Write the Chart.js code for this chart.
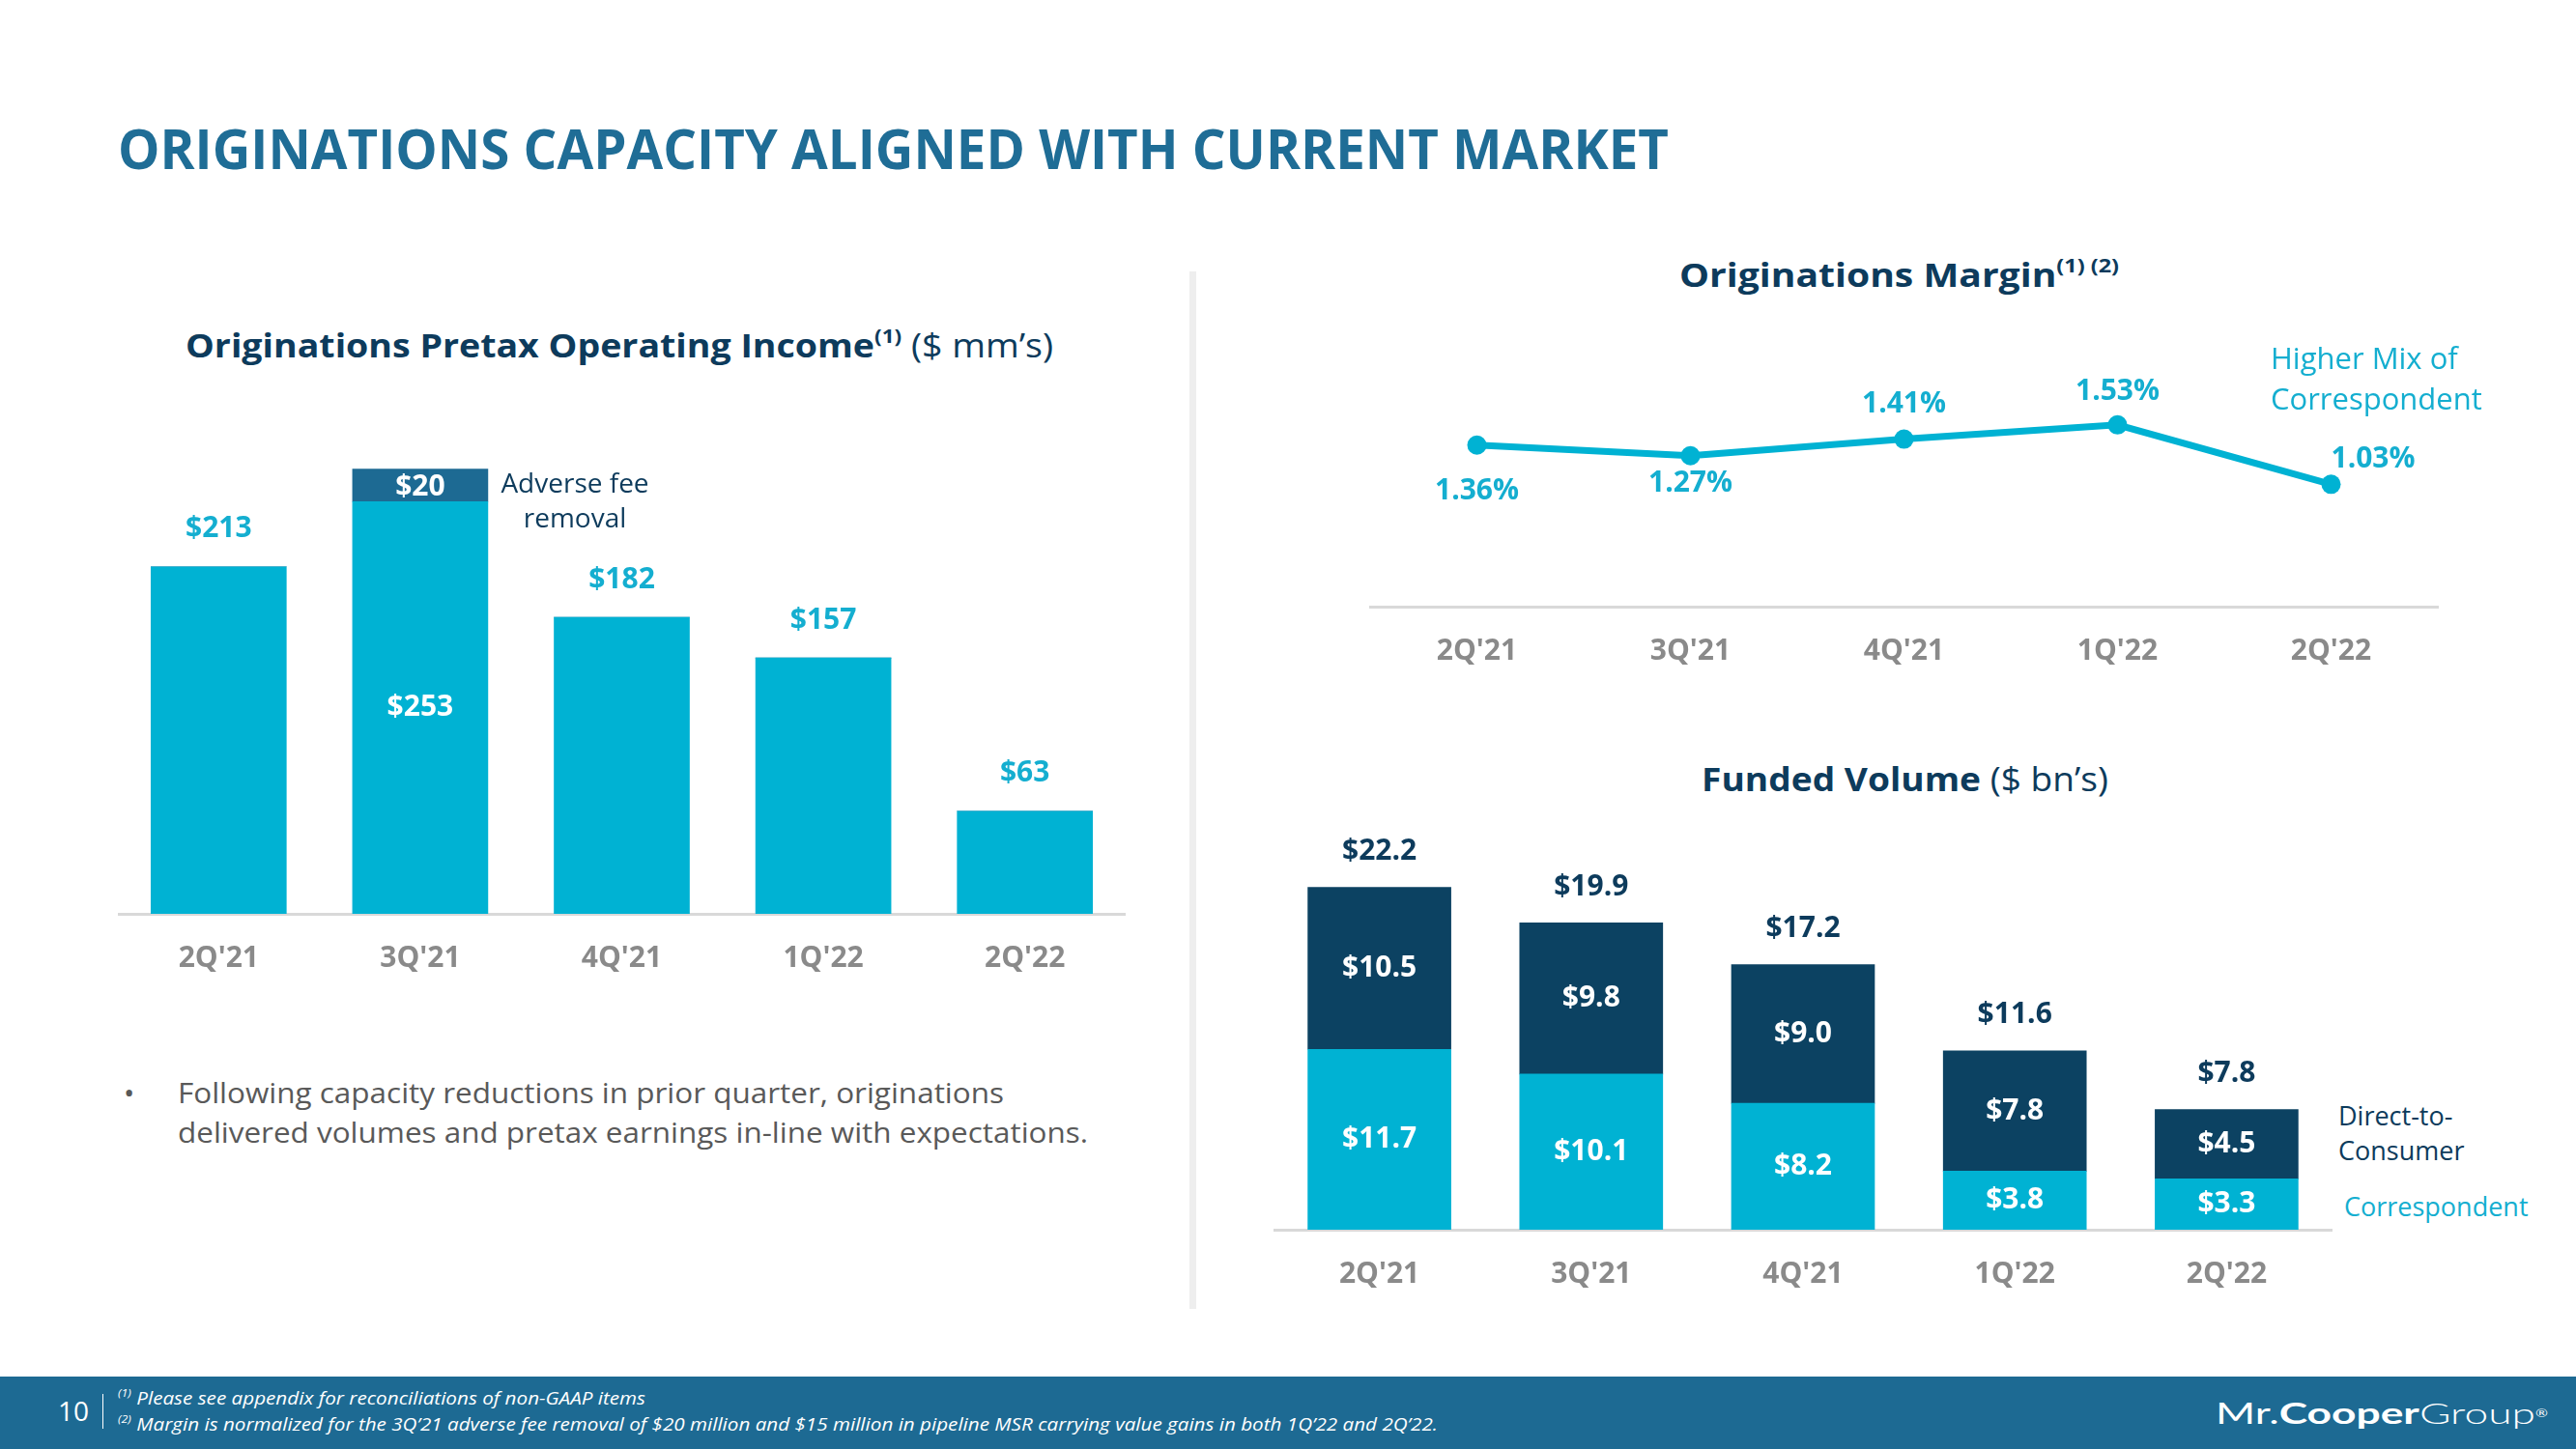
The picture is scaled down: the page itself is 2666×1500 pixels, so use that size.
<!DOCTYPE html>
<html>
<head>
<meta charset="utf-8">
<script src="https://cdn.jsdelivr.net/npm/chart.js@4.4.0/dist/chart.umd.min.js"></script>
<style>
  body { margin: 0; width: 2666px; height: 1500px; background: #fff; position: relative; overflow: hidden; font-family: "Open Sans", sans-serif; }
  .t { position: absolute; white-space: nowrap; line-height: 1.2; transform: translateY(-50%); transform-origin: 0 50%; }
  .box { position: absolute; }
  sup { font-size: 0.6em; vertical-align: 0.7em; line-height: 0; }
  .navy { color: #0d3b5c; }
  .cyan { color: #14aed0; }
</style>
</head>
<body>

<div class="t" data-w="1605" style="left:122px; top:153px; font-size:58px; font-weight:700; color:#1f6d96;">ORIGINATIONS CAPACITY ALIGNED WITH CURRENT MARKET</div>

<!-- left panel -->
<div class="t navy" data-w="898" style="left:192px; top:357px; font-size:34px;"><b>Originations Pretax Operating Income</b><sup><b>(1)</b></sup> ($ mm’s)</div>
<div class="box" style="left:122px; top:400px; width:1043px; height:638px;"><canvas id="incomeChart"></canvas></div>
<div class="t navy" style="left:495px; top:500px; width:200px; text-align:center; font-size:28px;">Adverse fee</div>
<div class="t navy" style="left:495px; top:536px; width:200px; text-align:center; font-size:28px;">removal</div>

<div class="t" style="left:128px; top:1131px; font-size:30px; color:#595959;">•</div>
<div class="t" data-w="855" style="left:184px; top:1131px; font-size:30px; color:#595959;">Following capacity reductions in prior quarter, originations</div>
<div class="t" data-w="942" style="left:184px; top:1172px; font-size:30px; color:#595959;">delivered volumes and pretax earnings in-line with expectations.</div>

<div class="box" style="left:1231px; top:281px; width:7px; height:1074px; background:#eeeeee;"></div>

<!-- right top -->
<div class="t navy" data-w="455" style="left:1738px; top:284px; font-size:34px;"><b>Originations Margin</b><sup><b>(1) (2)</b></sup></div>
<div class="box" style="left:1408px; top:330px; width:1125px; height:390px;"><canvas id="marginChart"></canvas></div>
<div class="t cyan" style="left:2350px; top:371px; font-size:31px;">Higher Mix of</div>
<div class="t cyan" style="left:2350px; top:413px; font-size:31px;">Correspondent</div>

<!-- right bottom -->
<div class="t navy" data-w="421" style="left:1761px; top:806px; font-size:34px;"><b>Funded Volume</b> ($ bn’s)</div>
<div class="box" style="left:1318px; top:830px; width:1096px; height:535px;"><canvas id="volumeChart"></canvas></div>
<div class="t navy" style="left:2420px; top:1155px; font-size:27px;">Direct-to-</div>
<div class="t navy" style="left:2420px; top:1191px; font-size:27px;">Consumer</div>
<div class="t cyan" style="left:2426px; top:1249px; font-size:27px;">Correspondent</div>

<!-- footer -->
<div class="box" style="left:0; top:1425px; width:2666px; height:75px; background:#1d6a93;"></div>
<div class="t" style="left:60px; top:1461px; font-size:28px; color:#fff;">10</div>
<div class="box" style="left:106px; top:1443px; width:1px; height:36px; background:#fff;"></div>
<div class="t" data-w="546" style="left:122px; top:1447px; font-size:19px; font-style:italic; color:#fff;"><sup>(1)</sup> Please see appendix for reconciliations of non-GAAP items</div>
<div class="t" data-w="1366" style="left:122px; top:1474px; font-size:19px; font-style:italic; color:#fff;"><sup>(2)</sup> Margin is normalized for the 3Q’21 adverse fee removal of $20 million and $15 million in pipeline MSR carrying value gains in both 1Q’22 and 2Q’22.</div>
<div class="t" data-w="344" style="left:2293px; top:1462px; font-size:30px; color:#fff; font-family:Lato, sans-serif;"><span style="font-weight:400">Mr.</span><span style="font-weight:700">Cooper</span><span style="font-weight:300">Group</span><sup style="font-size:0.35em">®</sup></div>

<script>
const quarters = ["2Q'21", "3Q'21", "4Q'21", "1Q'22", "2Q'22"];

// Originations pretax operating income ($ mm)
const pretaxIncome = [213, 253, 182, 157, 63];
const adverseFee = [0, 20, 0, 0, 0];

// Originations margin (%)
const margin = [1.36, 1.27, 1.41, 1.53, 1.03];

// Funded volume ($ bn)
const correspondent = [11.7, 10.1, 8.2, 3.8, 3.3];
const directToConsumer = [10.5, 9.8, 9.0, 7.8, 4.5];
const fundedTotal = [22.2, 19.9, 17.2, 11.6, 7.8];

const CYAN = '#00b2d3';
const CYAN_TEXT = '#14aed0';
const NAVY = '#0c4262';
const NAVY_TEXT = '#0d3b5c';
const FEE_BLUE = '#1d6a93';
const GRAY = '#8a8a8a';
const LABEL_FONT = 'bold 30px "Open Sans"';

document.querySelectorAll('[data-w]').forEach(function (el) {
    let w = el.getBoundingClientRect().width;
    el.style.transform = 'translateY(-50%) scaleX(' + (parseFloat(el.dataset.w) / w) + ')';
});

function xAxis() {
    return {
        grid: { display: false, drawTicks: false },
        border: { display: true, color: '#d9d9d9', width: 3 },
        ticks: { color: GRAY, padding: 28, font: { family: 'Open Sans', size: 30, weight: 'bold' } }
    };
}

function baseOptions(padTop, yMax, stacked) {
    let x = xAxis();
    x.stacked = stacked;
    return {
        responsive: true,
        maintainAspectRatio: false,
        animation: false,
        layout: { padding: { top: padTop, left: 0, right: 0, bottom: 0 } },
        plugins: { legend: { display: false }, tooltip: { enabled: false } },
        scales: {
            x: x,
            y: { display: false, stacked: stacked, min: 0, max: yMax }
        }
    };
}

function drawText(ctx, text, x, y, color, align) {
    ctx.save();
    ctx.font = LABEL_FONT;
    ctx.fillStyle = color;
    ctx.textAlign = align || 'center';
    ctx.textBaseline = 'middle';
    ctx.fillText(text, x, y);
    ctx.restore();
}

// left: income bars
new Chart(document.getElementById('incomeChart'), {
    type: 'bar',
    data: {
        labels: quarters,
        datasets: [
            { data: pretaxIncome, backgroundColor: CYAN, barThickness: 140 },
            { data: adverseFee, backgroundColor: FEE_BLUE, barThickness: 140 }
        ]
    },
    options: baseOptions(40, 300, true),
    plugins: [{
        id: 'incomeLabels',
        afterDatasetsDraw(chart) {
            let ctx = chart.ctx;
            let base = chart.getDatasetMeta(0).data;
            let fee = chart.getDatasetMeta(1).data;
            pretaxIncome.forEach(function (v, i) {
                let bar = base[i];
                if (adverseFee[i] > 0) {
                    drawText(ctx, '$' + v, bar.x, (bar.y + bar.base) / 2, '#ffffff');
                    let f = fee[i];
                    drawText(ctx, '$' + adverseFee[i], f.x, (f.y + f.base) / 2 + 2, '#ffffff');
                } else {
                    drawText(ctx, '$' + v, bar.x, bar.y - 39, CYAN_TEXT);
                }
            });
        }
    }]
});

// right top: margin line
const marginOffsets = [[0, 48], [0, 29], [0, -36], [0, -34], [0, -26]];
new Chart(document.getElementById('marginChart'), {
    type: 'line',
    data: {
        labels: quarters,
        datasets: [{
            data: margin,
            borderColor: CYAN,
            borderWidth: 7,
            pointRadius: 10,
            pointBackgroundColor: CYAN,
            pointBorderWidth: 0,
            tension: 0
        }]
    },
    options: (function () {
        let o = baseOptions(52, 2.0, false);
        o.scales.x.offset = true;
        return o;
    })(),
    plugins: [{
        id: 'marginLabels',
        afterDatasetsDraw(chart) {
            let ctx = chart.ctx;
            chart.getDatasetMeta(0).data.forEach(function (pt, i) {
                let off = marginOffsets[i];
                let last = i === margin.length - 1;
                drawText(ctx, margin[i].toFixed(2) + '%', pt.x + off[0], pt.y + off[1], CYAN_TEXT, last ? 'left' : 'center');
            });
        }
    }]
});

// right bottom: funded volume stacked
new Chart(document.getElementById('volumeChart'), {
    type: 'bar',
    data: {
        labels: quarters,
        datasets: [
            { label: 'Correspondent', data: correspondent, backgroundColor: CYAN, barThickness: 148 },
            { label: 'Direct-to-Consumer', data: directToConsumer, backgroundColor: NAVY, barThickness: 148 }
        ]
    },
    options: baseOptions(44, 25, true),
    plugins: [{
        id: 'volumeLabels',
        afterDatasetsDraw(chart) {
            let ctx = chart.ctx;
            let corr = chart.getDatasetMeta(0).data;
            let dtc = chart.getDatasetMeta(1).data;
            quarters.forEach(function (q, i) {
                drawText(ctx, '$' + correspondent[i].toFixed(1), corr[i].x, (corr[i].y + corr[i].base) / 2, '#ffffff');
                drawText(ctx, '$' + directToConsumer[i].toFixed(1), dtc[i].x, (dtc[i].y + dtc[i].base) / 2, '#ffffff');
                drawText(ctx, '$' + fundedTotal[i].toFixed(1), dtc[i].x, dtc[i].y - 37, NAVY_TEXT);
            });
        }
    }]
});
</script>
</body>
</html>
